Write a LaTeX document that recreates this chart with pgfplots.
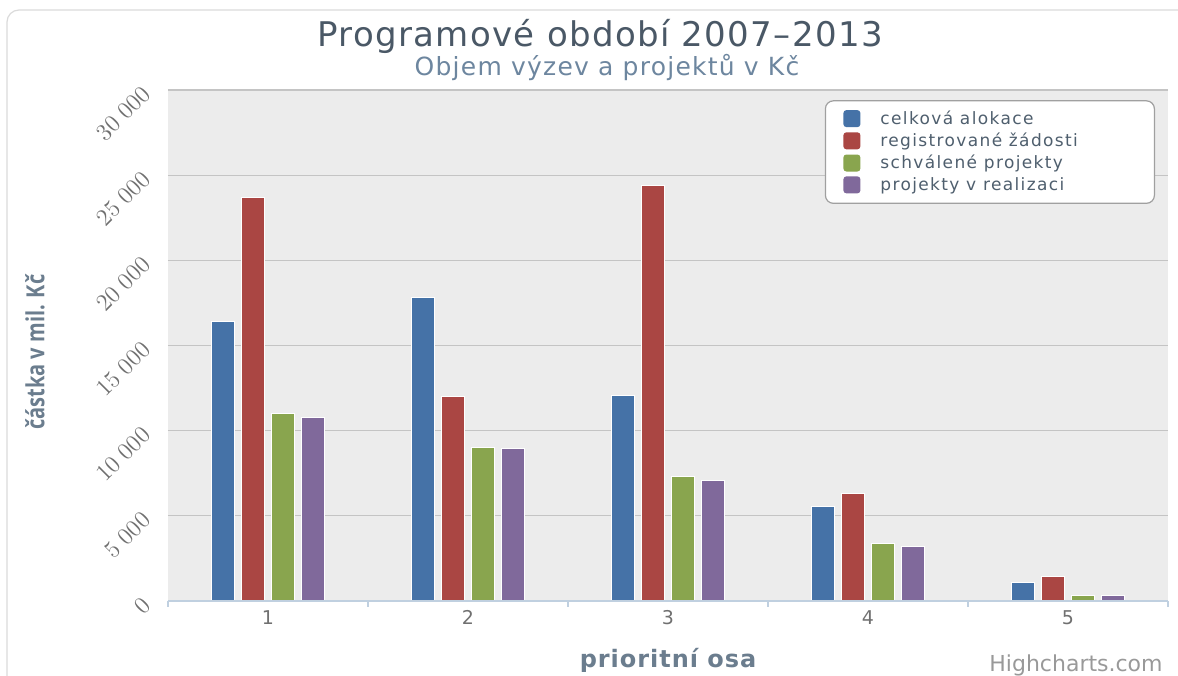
\documentclass[border=0pt]{standalone}
\usepackage{fontspec}
\setmainfont{DejaVu Sans}
\newfontfamily\ylabfont[FakeStretch=0.8]{Open Sans}
\newfontfamily\legfont[LetterSpace=8]{DejaVu Sans}
\newfontfamily\titfont[LetterSpace=4]{DejaVu Sans}
\newfontfamily\subfont[LetterSpace=5]{DejaVu Sans}
\newfontfamily\xlabfont[LetterSpace=4]{DejaVu Sans}
\usepackage{pgfplots}
\pgfplotsset{compat=1.18}

\definecolor{cBlue}{HTML}{4572A7}
\definecolor{cRed}{HTML}{AA4643}
\definecolor{cGreen}{HTML}{89A54E}
\definecolor{cPurple}{HTML}{80699B}
\definecolor{titleC}{HTML}{4A5866}
\definecolor{subC}{HTML}{6D869F}
\definecolor{axtitleC}{HTML}{6B7D8E}
\definecolor{plotbg}{HTML}{ECECEC}
\definecolor{gridC}{HTML}{C4C4C4}
\definecolor{axisC}{HTML}{C0D0E0}
\definecolor{labC}{HTML}{707070}
\definecolor{legC}{HTML}{4F5F6E}
\definecolor{legBorder}{HTML}{A0A0A0}
\definecolor{frameC}{HTML}{DADADA}

\pgfplotstableread{
x alok zad schv real
1 16400 23700 11000 10800
2 17800 12000 9000 8950
3 12050 24400 7300 7100
4 5550 6300 3400 3200
5 1100 1450 350 330
}\datatable

\begin{document}
\begin{tikzpicture}
\useasboundingbox (0,0) rectangle (589pt,337.5pt);
\draw[frameC, line width=0.6pt, rounded corners=6pt] (3.5pt,-30pt) rectangle (620pt,332.5pt);
\begin{axis}[
  at={(84pt,37pt)}, anchor=south west,
  scale only axis, width=500pt, height=255.5pt,
  clip mode=individual,
  xmin=0.5, xmax=5.5, ymin=0, ymax=30000,
  axis background/.style={fill=plotbg},
  axis line style={draw=none},
  ybar=3.5pt, bar width=11.5pt,
  xtick={1,2,3,4,5}, xticklabels={1,2,3,4,5},
  minor xtick={0.5,1.5,2.5,3.5,4.5,5.5},
  xtick pos=bottom, tick align=outside,
  major x tick style={draw=none},
  minor x tick style={axisC, line width=0.6pt},
  minor tick length=2.8pt,
  ytick={0,5000,...,30000},
  ytick style={draw=none},
  ymajorgrids, grid style={gridC, line width=0.6pt},
  scaled y ticks=false,
  yticklabel shift=6.5pt,
  yticklabel style={/pgf/number format/.cd, 1000 sep={\;}, /tikz/.cd,
    rotate=45, anchor=east, inner sep=0pt, text=labC,
    font=\fontsize{13}{14}\selectfont},
  xticklabel style={text=labC, font=\fontsize{9.5}{11}\selectfont, yshift=3pt},
  title={Programové období 2007–2013},
  title style={at={(axis description cs:0.432,1.111)}, anchor=center, yshift=-7.5pt,
    font=\titfont\fontsize{17}{20}\selectfont, text=titleC},
  xlabel={prioritní osa},
  xlabel style={at={(axis description cs:0.5,-0.1155)}, anchor=center,
    font=\xlabfont\bfseries\fontsize{12}{14}\selectfont, text=axtitleC},
  ylabel={částka v mil. Kč},
  ylabel style={at={(axis description cs:-0.133,0.487)}, anchor=center,
    font=\ylabfont\bfseries\fontsize{12.5}{14}\selectfont, text=axtitleC},
  legend style={at={(axis description cs:0.987,0.980)}, anchor=north east,
    draw=legBorder, line width=0.6pt, rounded corners=4pt, fill=white,
    font=\legfont\fontsize{8.5}{10}\selectfont, text=legC,
    inner xsep=9pt, inner ysep=3pt, row sep=-1.2pt,
    /tikz/every odd column/.append style={column sep=8pt}},
  legend cell align=left,
  legend image code/.code={\fill[#1, draw=none, rounded corners=1.5pt] (0pt,-4pt) rectangle (8.5pt,4.5pt);},
  every axis plot/.append style={draw=white, line width=0.5pt},
]
\addplot[fill=cBlue] table[x=x, y=alok] {\datatable};
\addplot[fill=cRed] table[x=x, y=zad] {\datatable};
\addplot[fill=cGreen] table[x=x, y=schv] {\datatable};
\addplot[fill=cPurple] table[x=x, y=real] {\datatable};
\legend{\makebox[126pt][l]{celková alokace},registrované žádosti,schválené projekty,projekty v realizaci}
\draw[axisC, line width=0.6pt] (rel axis cs:0,0) -- (rel axis cs:1,0);
\node[font=\subfont\fontsize{12.5}{14}\selectfont, text=subC] at (axis description cs:0.439,1.045) {Objem výzev a projektů v Kč};
\end{axis}
\node[font=\fontsize{11}{13}\selectfont, text=gray!80] at (538pt,5pt) {Highcharts.com};
\end{tikzpicture}
\end{document}
